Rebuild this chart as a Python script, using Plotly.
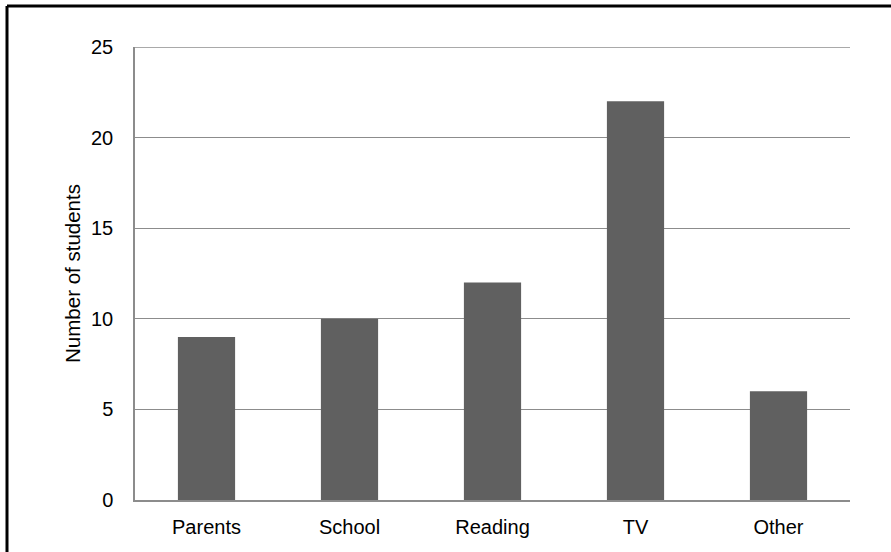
import plotly.graph_objects as go

categories = ["Parents", "School", "Reading", "TV", "Other"]
students = [9, 10, 12, 22, 6]
y_ticks = [0, 5, 10, 15, 20, 25]

W, H = 891, 552
L, R, T, B = 135, 41, 47, 52
pw, ph = W - L - R, H - T - B

fig = go.Figure(go.Bar(x=categories, y=students, marker=dict(color="#606060", line=dict(width=0)), width=0.4))

font = dict(family="Liberation Sans, Arial", size=20, color="#000000")
fig.update_layout(
    width=W, height=H,
    margin=dict(l=L, r=R, t=T, b=B),
    paper_bgcolor="white", plot_bgcolor="white",
    font=font, showlegend=False,
    xaxis=dict(showgrid=False, showline=True, linecolor="#8c8c8c", linewidth=1.5,
               ticks="", ticklabelstandoff=8, tickfont=font),
    yaxis=dict(range=[0, 25], tickvals=y_ticks, showgrid=True, gridcolor="#8c8c8c", gridwidth=1.3,
               showline=True, linecolor="#8c8c8c", linewidth=1.5, zeroline=False,
               ticks="", ticklabelstandoff=16, tickfont=font,
               title=dict(text="Number of students", font=dict(family="Liberation Sans, Arial", size=20.5), standoff=5)),
)

# top gridline at the axis maximum
fig.add_shape(type="line", xref="paper", yref="y", x0=0, x1=1, y0=y_ticks[-1], y1=y_ticks[-1],
              line=dict(color="#8c8c8c", width=1.3), layer="below")

# outer frame (left and top edges visible)
x_left = (7 - L) / pw
y_top = (H - B - 6) / ph
fig.add_shape(type="line", xref="paper", yref="paper", x0=x_left, x1=x_left, y0=y_top, y1=-0.5,
              line=dict(color="black", width=3))
fig.add_shape(type="line", xref="paper", yref="paper", x0=x_left, x1=1.5, y0=y_top, y1=y_top,
              line=dict(color="black", width=3))

fig.write_html("out.html")
